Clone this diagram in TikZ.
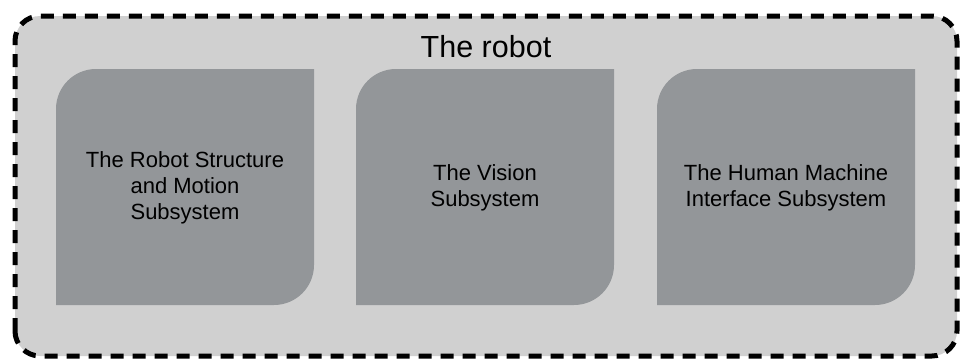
\documentclass[tikz,border=0pt]{standalone}
\usepackage{fontspec}
\setmainfont{Liberation Sans}
\definecolor{outerfill}{RGB}{208,208,208}
\definecolor{innerfill}{RGB}{147,150,153}
\tikzset{
  outerbox/.style={draw=black, fill=outerfill, line width=5pt, dash pattern=on 13pt off 9pt, rounded corners=25pt},
  innerbox/.style={fill=innerfill},
  boxtext/.style={align=center, font=\fontsize{22}{26}\selectfont, text=black},
  titletext/.style={font=\fontsize{30.5}{36}\selectfont, text=black}
}
\newcommand\robotsub[2]{%
  \fill[innerbox] (#1,55) -- (#1,251) arc[start angle=180, end angle=90, radius=40] -- (#2,291) -- (#2,95) arc[start angle=0, end angle=-90, radius=40] -- cycle;}
\begin{document}
\begin{tikzpicture}[x=1pt,y=1pt]
\useasboundingbox (0,0) rectangle (962,360);
\draw[outerbox] (15,4) rectangle (957,344);
\node[titletext] (title) at (486,313) {The robot};
\robotsub{56}{314}
\robotsub{356}{614}
\robotsub{657}{915}
\node[boxtext] (s1) at (185,172) {The Robot Structure\\and Motion\\Subsystem};
\node[boxtext] (s2) at (485,172) {The Vision\\Subsystem};
\node[boxtext] (s3) at (786,172) {The Human Machine\\Interface Subsystem};
\end{tikzpicture}
\end{document}
